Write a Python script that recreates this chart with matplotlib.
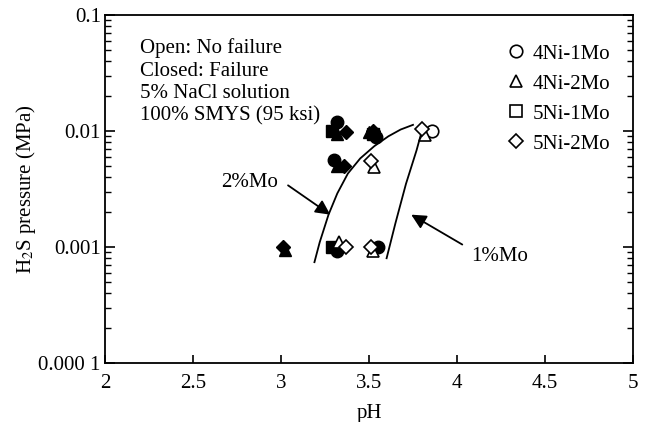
import matplotlib.pyplot as plt
from matplotlib.ticker import FixedLocator, LogLocator, NullFormatter

plt.rcParams["font.family"] = ["Liberation Serif", "DejaVu Serif"]
plt.rcParams["mathtext.fontset"] = "stix"

# Data points (pH, H2S pressure in MPa), filled = failure, open = no failure
ni4mo1_fail_ph = [3.32, 3.30, 3.54, 3.32, 3.55]
ni4mo1_fail_p = [0.012, 0.0056, 0.0088, 0.00093, 0.001]
ni4mo1_ok_ph = [3.86]
ni4mo1_ok_p = [0.01]

ni4mo2_fail_ph = [3.32, 3.32, 3.50, 3.02]
ni4mo2_fail_p = [0.0095, 0.005, 0.0098, 0.00095]
ni4mo2_ok_ph = [3.33, 3.52, 3.82, 3.53]
ni4mo2_ok_p = [0.0011, 0.00093, 0.0093, 0.0049]

ni5mo1_fail_ph = [3.29, 3.29, 3.52]
ni5mo1_fail_p = [0.01, 0.001, 0.0095]

ni5mo2_fail_ph = [3.37, 3.36, 3.52, 3.01]
ni5mo2_fail_p = [0.0098, 0.005, 0.01, 0.001]
ni5mo2_ok_ph = [3.37, 3.51, 3.51, 3.80]
ni5mo2_ok_p = [0.001, 0.001, 0.0055, 0.0105]

# Boundary curves
mo2_ph = [3.19, 3.22, 3.27, 3.32, 3.38, 3.45, 3.53, 3.61, 3.68, 3.75]
mo2_p = [0.00074, 0.0011, 0.0019, 0.0029, 0.0043, 0.0058, 0.0074, 0.0090, 0.0103, 0.0113]
mo1_ph = [3.60, 3.65, 3.71, 3.77, 3.81]
mo1_p = [0.0008, 0.0016, 0.0035, 0.0068, 0.0113]

fig = plt.figure(figsize=(6.51, 4.22), dpi=100)
ax = fig.add_axes([105 / 651, 1 - 363 / 422, (633 - 105) / 651, (363 - 15) / 422])

fs = 15
ms = 9
kw_fill = dict(ls="none", ms=ms, color="black", mec="black")
kw_open = dict(ls="none", ms=ms, mfc="white", mec="black", mew=1.2)

ax.plot(mo2_ph, mo2_p, color="black", lw=1.3)
ax.plot(mo1_ph, mo1_p, color="black", lw=1.3)

ax.plot(ni4mo1_fail_ph, ni4mo1_fail_p, marker="o", **kw_fill)
ax.plot(ni4mo2_fail_ph, ni4mo2_fail_p, marker="^", **kw_fill)
ax.plot(ni5mo1_fail_ph, ni5mo1_fail_p, marker="s", **kw_fill)
ax.plot(ni5mo2_fail_ph, ni5mo2_fail_p, marker="D", **{**kw_fill, "ms": 7.5})

ax.plot(ni4mo1_ok_ph, ni4mo1_ok_p, marker="o", **kw_open)
ax.plot(ni4mo2_ok_ph, ni4mo2_ok_p, marker="^", **kw_open)
ax.plot(ni5mo2_ok_ph, ni5mo2_ok_p, marker="D", **{**kw_open, "ms": 7.5})

# legend with open markers
h1, = ax.plot([], [], marker="o", label="4Ni-1Mo", **kw_open)
h2, = ax.plot([], [], marker="^", label="4Ni-2Mo", **kw_open)
h3, = ax.plot([], [], marker="s", label="5Ni-1Mo", **kw_open)
h4, = ax.plot([], [], marker="D", label="5Ni-2Mo", **{**kw_open, "ms": 7.5})
ax.legend(handles=[h1, h2, h3, h4], loc="upper right", bbox_to_anchor=(1.013, 1.0),
          frameon=False, fontsize=fs, handletextpad=0.3, labelspacing=0.5,
          handlelength=1.0, borderaxespad=1.0)

ax.text(0.066, 0.933, "Open: No failure\nClosed: Failure\n5% NaCl solution\n100% SMYS (95 ksi)",
        transform=ax.transAxes, fontsize=fs, va="top", linespacing=1.24)

# boundary labels with arrows
ax.text(2.82, 0.0036, "2%Mo", fontsize=fs, ha="center", va="center")
ax.annotate("", xy=(3.28, 0.0019), xytext=(3.04, 0.0034),
            arrowprops=dict(arrowstyle="-|>", color="black", lw=1.3,
                            mutation_scale=22, shrinkA=0, shrinkB=0))
ax.text(4.24, 0.00082, "1%Mo", fontsize=fs, ha="center", va="center")
ax.annotate("", xy=(3.74, 0.0019), xytext=(4.03, 0.00105),
            arrowprops=dict(arrowstyle="-|>", color="black", lw=1.3,
                            mutation_scale=22, shrinkA=0, shrinkB=0))

ax.set_yscale("log")
ax.set_xlim(2, 5)
ax.set_ylim(0.0001, 0.1)
ax.set_xticks([2, 2.5, 3, 3.5, 4, 4.5, 5])
ax.set_xticklabels(["2", "2.5", "3", "3.5", "4", "4.5", "5"])
ax.yaxis.set_major_locator(FixedLocator([0.0001, 0.001, 0.01, 0.1]))
ax.set_yticklabels(["0.000 1", "0.001", "0.01", "0.1"])
ax.yaxis.set_minor_locator(LogLocator(base=10, subs=range(2, 10)))
ax.yaxis.set_minor_formatter(NullFormatter())

ax.tick_params(axis="x", direction="in", top=False, length=6, width=1.2, labelsize=fs, pad=8)
ax.tick_params(axis="y", which="major", direction="in", left=True, right=True,
               length=7, width=1.2, labelsize=fs, pad=3)
ax.tick_params(axis="y", which="minor", direction="in", left=True, right=True,
               length=4, width=1.0)
for s in ax.spines.values():
    s.set_linewidth(1.3)

ax.set_xlabel("pH", fontsize=fs, labelpad=8)
ax.set_ylabel("H$_2$S pressure (MPa)", fontsize=fs, labelpad=0)

fig.savefig("out.png", dpi=100)
